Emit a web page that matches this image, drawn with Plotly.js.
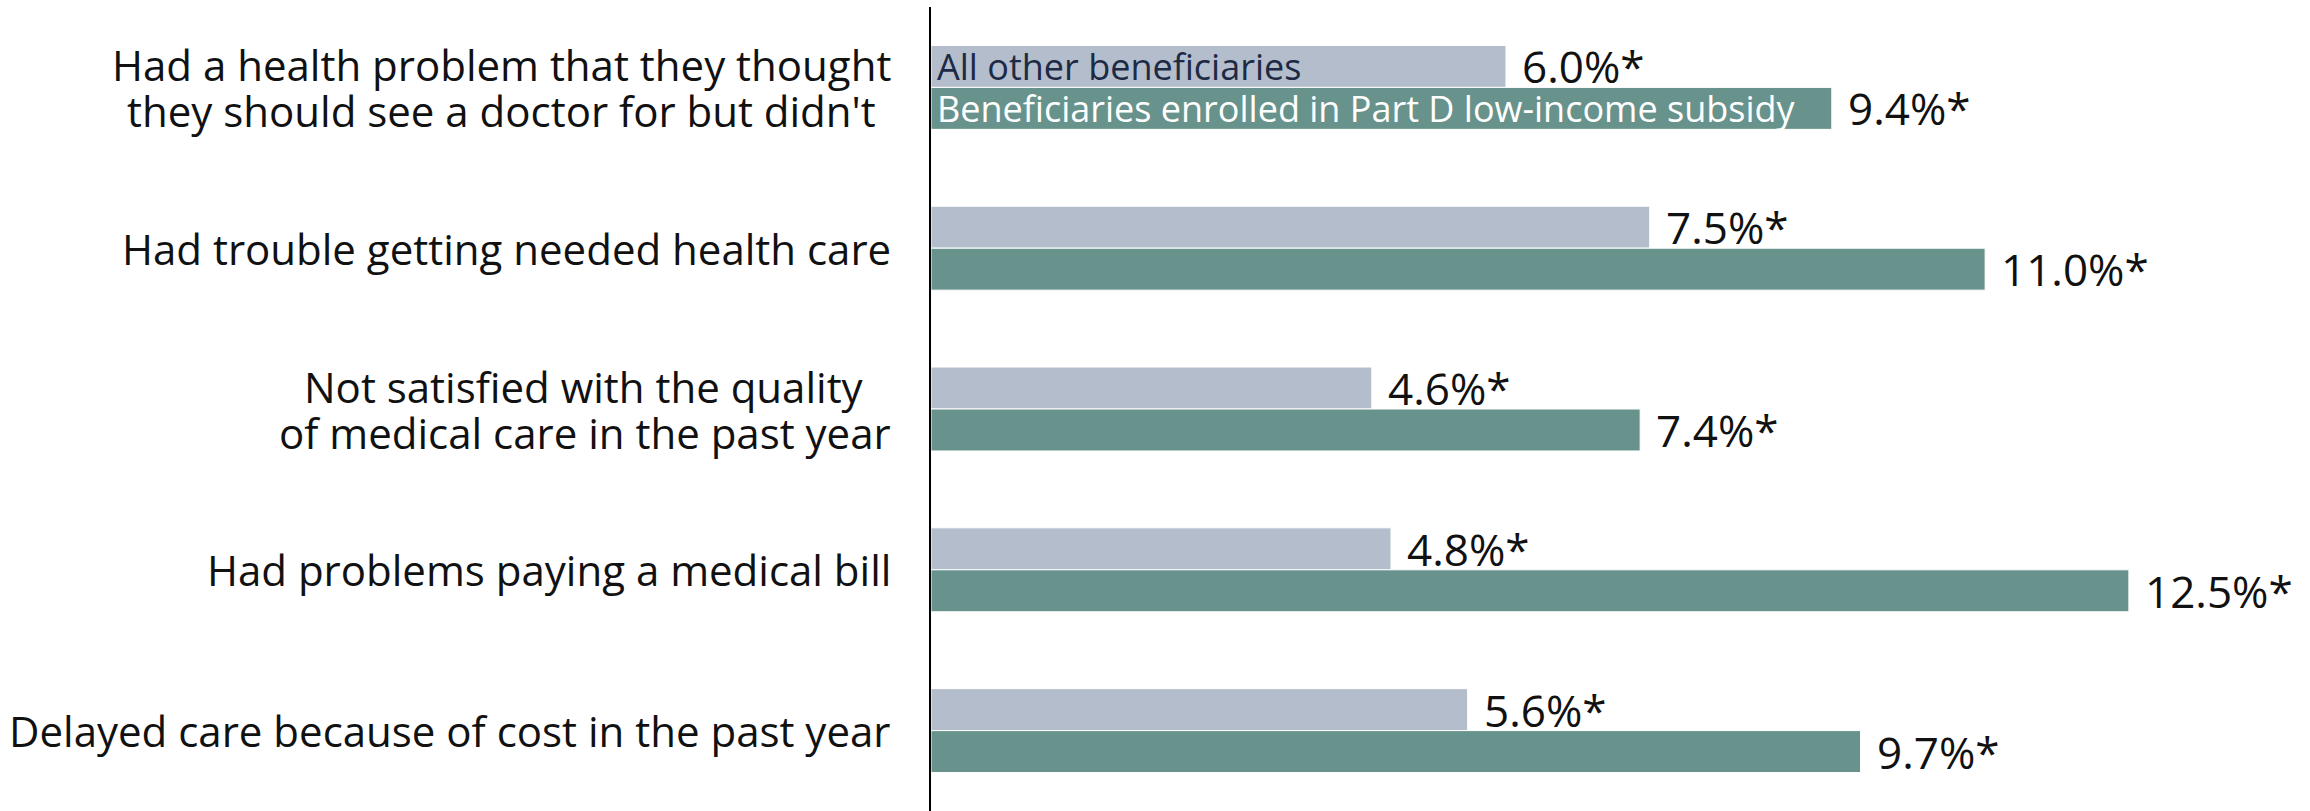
<!DOCTYPE html>
<html>
<head>
<meta charset="utf-8">
<script src="https://cdn.plot.ly/plotly-3.0.1.min.js"></script>
<style>
  html, body { margin: 0; padding: 0; background: #fff; }
  #chart { width: 2310px; height: 811px; }
</style>
</head>
<body>
<div id="chart"></div>
<script>
// each category label as a list of lines
const categories = [
  ['Had a health problem that they thought', "they should see a doctor for but didn't"],
  ['Had trouble getting needed health care'],
  ['Not satisfied with the quality', 'of medical care in the past year'],
  ['Had problems paying a medical bill'],
  ['Delayed care because of cost in the past year']
];
const catKeys = ['c1', 'c2', 'c3', 'c4', 'c5'];
const otherVals = [6.0, 7.5, 4.6, 4.8, 5.6];
const lisVals = [9.4, 11.0, 7.4, 12.5, 9.7];
const seriesNames = ['All other beneficiaries', 'Beneficiaries enrolled in Part D low-income subsidy'];

const grayColor = '#b4bdcb';
const greenColor = '#68938c';
const font = '"Open Sans", Lato, sans-serif';
const catSize = 42;

const traces = [
  {
    type: 'bar',
    orientation: 'h',
    name: seriesNames[0],
    y: catKeys,
    x: otherVals,
    marker: { color: grayColor, line: { color: '#ffffff', width: 1 } },
    hoverinfo: 'x'
  },
  {
    type: 'bar',
    orientation: 'h',
    name: seriesNames[1],
    y: catKeys,
    x: lisVals,
    marker: { color: greenColor, line: { color: '#ffffff', width: 1 } },
    hoverinfo: 'x'
  }
];

// measure lines so a two-line label can be centred on itself
const ctx = document.createElement('canvas').getContext('2d');
ctx.font = catSize + 'px "Open Sans"';

const annotations = [];
const lineGap = 46;
categories.forEach((lines, i) => {
  const widths = lines.map(l => ctx.measureText(l).width);
  const maxW = Math.max(...widths);
  lines.forEach((l, j) => {
    annotations.push({
      xref: 'paper', yref: 'y', x: 0, y: catKeys[i],
      xanchor: 'right', yanchor: 'middle',
      xshift: -38 - (maxW - widths[j]) / 2,
      yshift: ((lines.length - 1) / 2 - j) * lineGap,
      text: l, showarrow: false,
      font: { family: font, size: catSize, color: '#111111' }
    });
  });
});
// value labels
const half = 21;
otherVals.forEach((v, i) => {
  annotations.push({
    x: v, y: catKeys[i], xanchor: 'left', yanchor: 'middle',
    xshift: 14, yshift: half, text: v.toFixed(1) + '%*', showarrow: false,
    font: { family: font, size: 44, color: '#111111' }
  });
});
lisVals.forEach((v, i) => {
  annotations.push({
    x: v, y: catKeys[i], xanchor: 'left', yanchor: 'middle',
    xshift: 14, yshift: -half, text: v.toFixed(1) + '%*', showarrow: false,
    font: { family: font, size: 44, color: '#111111' }
  });
});
// series names written inside the first pair of bars
annotations.push({
  x: 0, y: catKeys[0], xanchor: 'left', yanchor: 'middle',
  xshift: 4, yshift: half, text: seriesNames[0], showarrow: false,
  font: { family: font, size: 36, color: '#1c2a45' }
});
annotations.push({
  x: 0, y: catKeys[0], xanchor: 'left', yanchor: 'middle',
  xshift: 4, yshift: -half, text: seriesNames[1], showarrow: false,
  font: { family: font, size: 36, color: '#ffffff' }
});

const layout = {
  width: 2310,
  height: 811,
  margin: { l: 931, r: 0, t: 7, b: 0 },
  paper_bgcolor: '#ffffff',
  plot_bgcolor: '#ffffff',
  barmode: 'group',
  bargap: 0.478,
  bargroupgap: 0,
  showlegend: false,
  xaxis: {
    range: [0, 14.39],
    showgrid: false,
    zeroline: false,
    showticklabels: false,
    ticks: ''
  },
  yaxis: {
    autorange: 'reversed',
    showgrid: false,
    zeroline: false,
    showline: true,
    linecolor: '#000000',
    linewidth: 2,
    showticklabels: false,
    ticks: ''
  },
  annotations: annotations
};

Plotly.newPlot('chart', traces, layout, { displayModeBar: false, staticPlot: true });
</script>
</body>
</html>
